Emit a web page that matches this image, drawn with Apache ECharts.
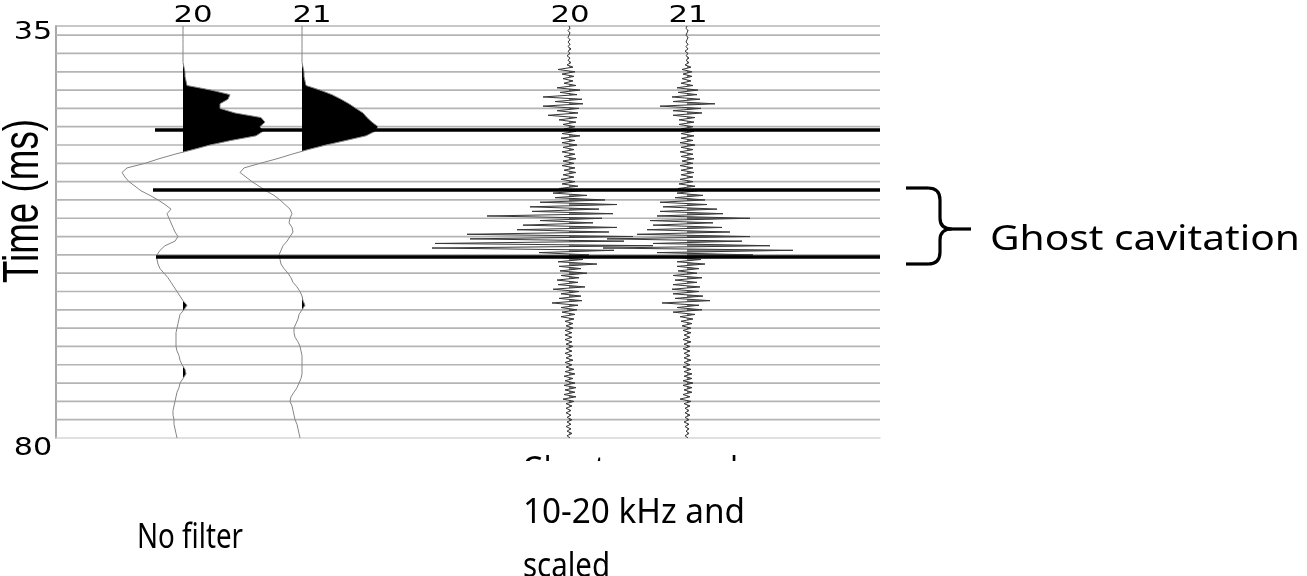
<!DOCTYPE html>
<html>
<head>
<meta charset="utf-8">
<script src="https://cdn.jsdelivr.net/npm/echarts@6/dist/echarts.min.js"></script>
<style>
  html, body { margin: 0; padding: 0; background: #fff; }
  #chart { width: 1307px; height: 576px; }
</style>
</head>
<body>
<div id="chart"></div>
<script>
// Time axis (ms) and reference lines
const timeMin = 35;
const timeMax = 80;
const timeLabels = [35, 80];
const gridTimes = [35, 36, 38, 40, 42, 44, 46, 48, 50, 52, 54, 56, 58, 60, 62, 64, 66, 68, 70, 72, 74, 76, 78];
const pickTimes = [46.36, 52.91, 60.23];
const pickStarts = [99, 97, 100];

// Trace layout: channel names and baseline offsets (amplitude units)
const traceNames = ['20', '21', '20', '21'];
const traceBase = [127, 246, 513, 631];
const ampMax = 824;

// Unfiltered traces, one sample every 0.5 ms from 35 ms
const rawStep = 0.5;
const raw20 = [
  0, 0, 0, 0, 0, 0, 0, 0, 0,
  1, 2, 2, 3, 4,
  28, 47, 45, 37, 37, 52, 78, 82, 77, 80, 73, 48, 27, 10,
  -8, -24, -38, -56, -61, -58, -54, -48, -42, -33, -25, -18,
  -12, -16, -14, -12, -10, -8, -5, -8, -18, -23, -26, -26, -25, -23, -19, -15, -12, -9, -6, -3,
  0, 4, 1, -3, -4, -5, -6, -7, -7, -7, -7, -6, -4, -3, -1, 2, 3, 0, -3, -4,
  -6, -7, -8, -9, -10, -10, -9, -9, -8, -7, -6
];
const raw21 = [
  0, 0, 0, 0, 0, 0, 0, 0, 0,
  1, 2, 2, 3, 4,
  18, 30, 39, 47, 54, 61, 65, 70, 76, 73, 64, 44, 24, 6,
  -10, -25, -42, -58, -62, -56, -50, -43, -36, -28, -22, -17,
  -12, -10, -12, -13, -10, -9, -12, -15, -19, -21, -23, -22, -21, -18, -14, -11, -9, -5, -2, 0,
  1, 3, 0, -3, -4, -6, -8, -8, -7, -4, -2, -1, 0, 0, 0, 0, 0, -1, -3, -5,
  -8, -11, -12, -10, -9, -8, -7, -5, -4, -3, -2
];

// Band-passed 10-20 kHz traces, one sample every 0.25 ms from 35 ms
const bpStep = 0.25;
const bp20 = [
  0, 1, -1, 1, 0, -1, 1, -1,
  1, -1, 2, -1, 1, -2, 1, -1,
  2, -2, 4, -11, 6, -7, 5, -6,
  4, -5, 7, -12, 11, -9, 8, -26,
  13, -14, 14, -26, 10, -12, 9, -21,
  8, -10, 7, -6, 6, -5, 7, -7,
  11, -8, 6, -7, 8, -6, 5, -7,
  6, -5, 7, -6, 5, -7, 6, -5,
  7, -6, 5, -8, 6, -7, 9, -10,
  12, -16, 18, -14, 36, -29, 48, -39,
  30, -37, 44, -82, 33, -29, 24, -46,
  48, -52, 40, -102, 64, -99, 55, -134,
  84, -137, 45, -30, 20, -12, 14, -11,
  28, -10, 12, -9, 18, -8, 10, -12,
  9, -11, 16, -16, 10, -8, 12, -10,
  13, -17, 9, -8, 8, -7, 6, -8,
  5, -4, 4, -3, 4, -4, 3, -4,
  3, -4, 3, -3, 4, -3, 3, -4,
  3, -3, 4, -4, 3, -3, 5, -4,
  6, -5, 4, -4, 6, -5, 7, -4,
  6, -5, 7, -6, 5, -3, 3, -3,
  2, -3, 2, -2, 3, -2, 2, -3,
  2, -2, 3, -2, 1
];
const bp21 = [
  0, -1, 1, 0, -1, 1, 0, -1,
  1, -1, 1, -2, 1, -1, 2, -1,
  2, -2, 4, -5, 5, -4, 5, -5,
  4, -6, 6, -10, 11, -9, 10, -15,
  13, -14, 28, -27, 14, -14, 15, -14,
  8, -8, 7, -8, 6, -6, 7, -6,
  7, -6, 6, -7, 8, -6, 6, -7,
  6, -6, 7, -5, 6, -7, 6, -6,
  7, -6, 6, -7, 6, -8, 8, -9,
  10, -10, 16, -12, 18, -27, 20, -24,
  30, -27, 36, -30, 63, -37, 26, -34,
  35, -40, 43, -50, 63, -80, 55, -34,
  83, -84, 106, -30, 66, -12, 14, -10,
  18, -10, 12, -9, 10, -14, 15, -12,
  10, -14, 13, -15, 12, -14, 16, -12,
  23, -25, 12, -10, 15, -14, 8, -7,
  6, -6, 5, -5, 4, -4, 4, -3,
  3, -4, 4, -3, 3, -4, 3, -3,
  3, -3, 4, -3, 3, -4, 4, -3,
  5, -3, 5, -4, 6, -4, 5, -3,
  5, -4, 3, -7, 4, -3, 3, -2,
  2, -2, 3, -2, 2, -3, 2, -2,
  2, -1, 2, -2, 1
];

const chart = echarts.init(document.getElementById('chart'));

// Wiggle trace with positive lobes filled (variable-area display)
function traceSeries(base, amps, step, lineColor, lineWidth, fillColor) {
  return {
    type: 'custom',
    coordinateSystem: 'cartesian2d',
    silent: true,
    clip: true,
    z: 3,
    data: [[base, timeMin]],
    renderItem: function (params, api) {
      const pt = (a, t) => api.coord([base + a, t]);
      const line = [];
      const fill = [pt(0, timeMin)];
      for (let i = 0; i < amps.length; i++) {
        const t = timeMin + i * step;
        const a = amps[i];
        if (i > 0) {
          const p = amps[i - 1];
          if ((p > 0 && a < 0) || (p < 0 && a > 0)) {
            fill.push(pt(0, t - step + step * p / (p - a)));
          }
        }
        fill.push(pt(Math.max(a, 0), t));
        line.push(pt(a, t));
      }
      fill.push(pt(0, timeMin + (amps.length - 1) * step));
      return {
        type: 'group',
        children: [
          { type: 'polygon', shape: { points: fill }, style: { fill: fillColor, stroke: null } },
          { type: 'polyline', shape: { points: line }, style: { stroke: lineColor, lineWidth: lineWidth, fill: null } }
        ]
      };
    }
  };
}

const option = {
  animation: false,
  backgroundColor: '#ffffff',
  grid: { left: 56, right: 427, top: 26, bottom: 138 },
  xAxis: {
    type: 'value', min: 0, max: ampMax, position: 'bottom',
    axisLine: { show: true, lineStyle: { color: '#d6d6d6', width: 1.5 } },
    axisTick: { show: false }, axisLabel: { show: false }, splitLine: { show: false }
  },
  yAxis: {
    type: 'value', min: timeMin, max: timeMax, inverse: true,
    axisLine: { show: true, lineStyle: { color: '#a8a8a8', width: 2 } },
    axisTick: { show: false }, axisLabel: { show: false }, splitLine: { show: false }
  },
  series: [
    {
      type: 'custom', silent: true, z: 1,
      data: gridTimes.map(t => [0, t]),
      renderItem: function (params, api) {
        const t = api.value(1);
        const a = api.coord([0, t]), b = api.coord([ampMax, t]);
        return { type: 'line', shape: { x1: a[0], y1: a[1], x2: b[0], y2: b[1] },
          style: { stroke: '#b4b4b4', lineWidth: 1.7 } };
      }
    },
    traceSeries(traceBase[0], raw20, rawStep, '#858585', 1, '#000000'),
    traceSeries(traceBase[1], raw21, rawStep, '#858585', 1, '#000000'),
    traceSeries(traceBase[2], bp20, bpStep, '#383838', 1, 'rgba(0,0,0,0.5)'),
    traceSeries(traceBase[3], bp21, bpStep, '#383838', 1, 'rgba(0,0,0,0.5)'),
    {
      type: 'custom', silent: true, z: 6,
      data: pickTimes.map((t, i) => [pickStarts[i], t]),
      renderItem: function (params, api) {
        const a = api.coord([api.value(0), api.value(1)]), b = api.coord([ampMax, api.value(1)]);
        return { type: 'line', shape: { x1: a[0], y1: a[1], x2: b[0], y2: b[1] },
          style: { stroke: '#000000', lineWidth: 3.6 } };
      }
    }
  ]
};
chart.setOption(option);

// Text helpers: measure with canvas so each label can be fitted to its width
const measureCtx = document.createElement('canvas').getContext('2d');
function textWidth(text, size, family) {
  measureCtx.font = size + 'px ' + family;
  return measureCtx.measureText(text).width;
}
function textEl(text, x, y, size, family, opts) {
  opts = opts || {};
  return {
    type: 'text', x: x, y: y, z: 100, silent: true,
    rotation: opts.rotation || 0,
    scaleX: opts.width ? opts.width / textWidth(text, size, family) : (opts.scaleX || 1),
    style: {
      text: text, fontSize: size, fontFamily: family, fill: '#000',
      textAlign: opts.align || 'center', textVerticalAlign: 'middle',
      align: opts.align || 'center', verticalAlign: 'middle'
    }
  };
}

const numFont = '"DejaVu Sans"';
const noteFont = '"Noto Sans"';
const graphics = [];

// Time tick labels
timeLabels.forEach((v, i) => {
  const y = chart.convertToPixel({ yAxisIndex: 0 }, v);
  graphics.push(textEl(String(v), 33, y + (i === 0 ? 7 : 11), 24, numFont, { scaleX: 1.26 }));
});

// Channel labels above each trace
traceNames.forEach((name, i) => {
  const x = chart.convertToPixel({ xAxisIndex: 0 }, traceBase[i]) + (i < 2 ? 10 : 1);
  graphics.push(textEl(name, x, 16, 23, numFont, { scaleX: 1.34 }));
});

// Axis title
graphics.push(textEl('Time (ms)', 24, 201, 50, '"Liberation Sans"', { rotation: Math.PI / 2, width: 164 }));

// Panel captions
graphics.push(textEl('No filter', 137, 538, 35, noteFont, { align: 'left', width: 106 }));
graphics.push(textEl('Ghost removed', 522, 471, 34, noteFont, { align: 'left', width: 216 }));
graphics.push({ type: 'rect', z: 101, silent: true, shape: { x: 505, y: 461, width: 280, height: 32 }, style: { fill: '#ffffff' } });
graphics.push(textEl('10-20 kHz and', 523, 513, 34, noteFont, { align: 'left', width: 222 }));
graphics.push(textEl('scaled', 523, 567, 34, noteFont, { align: 'left', width: 87 }));

// Brace marking the ghost cavitation window
const brace = { stroke: '#000', lineWidth: 3.2, fill: null };
[
  ['line', { x1: 906, y1: 188, x2: 928, y2: 188 }],
  ['bezierCurve', { x1: 928, y1: 188, cpx1: 940, cpy1: 188, x2: 940, y2: 200 }],
  ['line', { x1: 940, y1: 200, x2: 940, y2: 218 }],
  ['bezierCurve', { x1: 940, y1: 218, cpx1: 940, cpy1: 229, x2: 952, y2: 229 }],
  ['line', { x1: 952, y1: 229, x2: 971, y2: 229 }],
  ['bezierCurve', { x1: 952, y1: 229, cpx1: 940, cpy1: 229, x2: 940, y2: 240 }],
  ['line', { x1: 940, y1: 240, x2: 940, y2: 252 }],
  ['bezierCurve', { x1: 940, y1: 252, cpx1: 940, cpy1: 264, x2: 928, y2: 264 }],
  ['line', { x1: 928, y1: 264, x2: 906, y2: 264 }]
].forEach(([type, shape]) => graphics.push({ type: type, shape: shape, style: brace, z: 100, silent: true }));
graphics.push(textEl('Ghost cavitation', 990, 240, 34, noteFont, { align: 'left', width: 310 }));

chart.setOption({ graphic: graphics });
</script>
</body>
</html>
